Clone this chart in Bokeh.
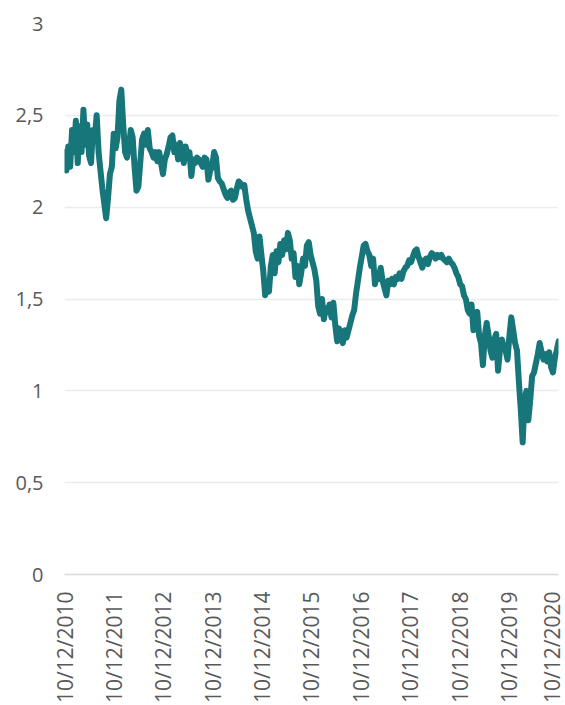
import math
import pandas as pd
from bokeh.plotting import figure
from bokeh.models import FixedTicker, DatetimeTickFormatter, CustomJSTickFormatter, Range1d, ColumnDataSource
from bokeh.embed import file_html
from bokeh.resources import INLINE

START_DATE = "2010-12-10"
STEP = "14D"
VALUES = [
    2.30, 2.20, 2.33, 2.22, 2.42, 2.30, 2.47, 2.24, 2.44, 2.30,
    2.53, 2.34, 2.45, 2.28, 2.24, 2.42, 2.38, 2.50, 2.30, 2.20,
    2.10, 2.02, 1.94, 2.05, 2.18, 2.22, 2.40, 2.32, 2.38, 2.58,
    2.64, 2.45, 2.30, 2.27, 2.33, 2.42, 2.38, 2.22, 2.09, 2.11,
    2.24, 2.37, 2.40, 2.34, 2.42, 2.32, 2.30, 2.27, 2.30, 2.25,
    2.30, 2.24, 2.18, 2.26, 2.29, 2.33, 2.38, 2.39, 2.30, 2.34,
    2.26, 2.35, 2.30, 2.24, 2.33, 2.28, 2.30, 2.17, 2.26, 2.24,
    2.27, 2.26, 2.24, 2.22, 2.27, 2.26, 2.15, 2.20, 2.22, 2.30,
    2.27, 2.16, 2.14, 2.13, 2.10, 2.07, 2.05, 2.08, 2.09, 2.04,
    2.05, 2.10, 2.14, 2.13, 2.11, 2.12, 2.04, 1.98, 1.94, 1.90,
    1.86, 1.76, 1.72, 1.84, 1.74, 1.65, 1.52, 1.58, 1.54, 1.68,
    1.74, 1.64, 1.76, 1.70, 1.80, 1.74, 1.82, 1.77, 1.86, 1.82,
    1.72, 1.75, 1.62, 1.68, 1.58, 1.64, 1.72, 1.68, 1.79, 1.81,
    1.74, 1.70, 1.66, 1.60, 1.46, 1.42, 1.50, 1.39, 1.45, 1.43,
    1.47, 1.40, 1.48, 1.36, 1.27, 1.34, 1.30, 1.26, 1.33, 1.29,
    1.33, 1.37, 1.41, 1.44, 1.53, 1.60, 1.67, 1.73, 1.79, 1.80,
    1.76, 1.74, 1.68, 1.72, 1.58, 1.64, 1.61, 1.67, 1.60, 1.56,
    1.52, 1.60, 1.58, 1.61, 1.58, 1.62, 1.61, 1.64, 1.61, 1.65,
    1.67, 1.68, 1.71, 1.70, 1.73, 1.76, 1.77, 1.73, 1.70, 1.67,
    1.71, 1.72, 1.69, 1.73, 1.75, 1.74, 1.72, 1.74, 1.73, 1.74,
    1.72, 1.71, 1.70, 1.72, 1.70, 1.69, 1.67, 1.64, 1.62, 1.58,
    1.57, 1.52, 1.50, 1.44, 1.42, 1.47, 1.33, 1.40, 1.43, 1.30,
    1.26, 1.14, 1.30, 1.37, 1.30, 1.22, 1.18, 1.28, 1.31, 1.11,
    1.22, 1.28, 1.24, 1.22, 1.17, 1.30, 1.40, 1.33, 1.26, 1.22,
    1.05, 0.90, 0.72, 0.95, 1.00, 0.84, 0.95, 1.08, 1.10, 1.15,
    1.20, 1.26, 1.21, 1.17, 1.20, 1.16, 1.21, 1.13, 1.10, 1.18,
    1.22, 1.27,
]
TICK_DATES = ["2010-12-10", "2011-12-10", "2012-12-10", "2013-12-10", "2014-12-10",
              "2015-12-10", "2016-12-10", "2017-12-10", "2018-12-10", "2019-12-10",
              "2020-12-10"]
Y_TICKS = [0, 0.5, 1, 1.5, 2, 2.5, 3]

dates = pd.date_range(START_DATE, periods=len(VALUES), freq=STEP)
src = ColumnDataSource(dict(x=dates, y=VALUES))

tick_ts = [pd.Timestamp(d) for d in TICK_DATES]
tick_ms = [t.value // 10**6 for t in tick_ts]

p = figure(width=565, height=705, x_axis_type="datetime",
           output_backend="svg", toolbar_location=None,
           x_range=Range1d(tick_ts[0], tick_ts[-1]),
           y_range=Range1d(0, 3),
           min_border_left=64, min_border_right=7, min_border_top=23, min_border_bottom=130)
p.outline_line_color = None
p.background_fill_color = "white"
p.border_fill_color = "white"

p.line("x", "y", source=src, line_color="#17767a", line_width=6,
       line_join="round", line_cap="round")

p.xgrid.grid_line_color = None
p.ygrid.grid_line_color = "#ececec"
p.ygrid.grid_line_width = 1.3

p.xaxis.ticker = FixedTicker(ticks=tick_ms)
fmt = "%d/%m/%Y"
p.xaxis.formatter = DatetimeTickFormatter(milliseconds=fmt, seconds=fmt, minsec=fmt, minutes=fmt,
                                          hourmin=fmt, hours=fmt, days=fmt, months=fmt, years=fmt)
p.xaxis.major_label_orientation = math.pi / 2
p.xaxis.axis_line_color = "#d9d9d9"
p.xaxis.axis_line_width = 1.3
p.xaxis.major_tick_line_color = None
p.xaxis.minor_tick_line_color = None
p.xaxis.major_tick_out = 0
p.xaxis.major_label_standoff = 17
p.xaxis.major_label_text_font = "Open Sans"
p.xaxis.major_label_text_font_size = "21px"
p.xaxis.major_label_text_color = "#595959"

p.yaxis.ticker = FixedTicker(ticks=Y_TICKS)
p.yaxis.formatter = CustomJSTickFormatter(code="return tick.toString().replace('.', ',');")
p.yaxis.axis_line_color = None
p.yaxis.major_tick_line_color = None
p.yaxis.minor_tick_line_color = None
p.yaxis.major_tick_out = 0
p.yaxis.major_label_standoff = 21
p.yaxis.major_label_text_font = "Open Sans"
p.yaxis.major_label_text_font_size = "20px"
p.yaxis.major_label_text_color = "#595959"

open("out.html", "w").write(file_html(p, INLINE))
